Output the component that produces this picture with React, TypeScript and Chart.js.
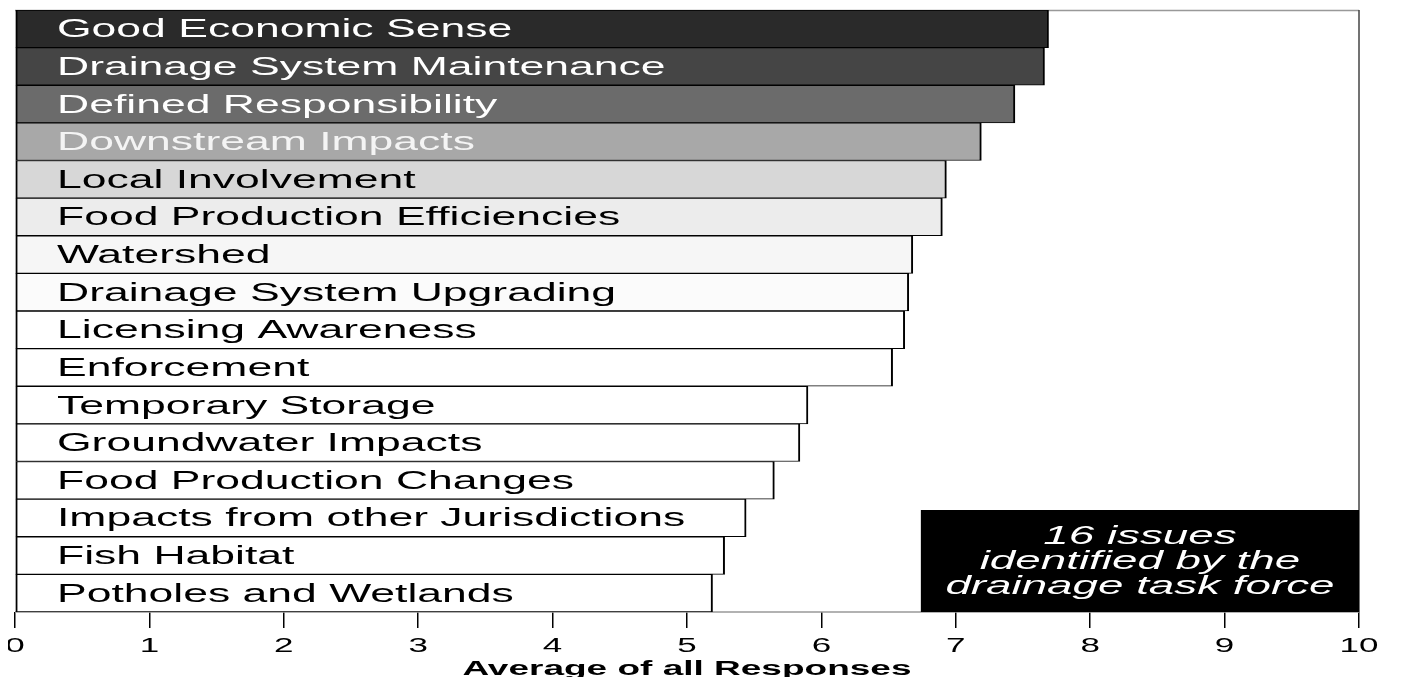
import React, { useEffect, useRef } from "react";
import { Chart, registerables } from "chart.js";

Chart.register(...registerables);

const categories = [
  "Good Economic Sense",
  "Drainage System Maintenance",
  "Defined Responsibility",
  "Downstream Impacts",
  "Local Involvement",
  "Food Production Efficiencies",
  "Watershed",
  "Drainage System Upgrading",
  "Licensing Awareness",
  "Enforcement",
  "Temporary Storage",
  "Groundwater Impacts",
  "Food Production Changes",
  "Impacts from other Jurisdictions",
  "Fish Habitat",
  "Potholes and Wetlands",
];

const averages = [7.69, 7.66, 7.44, 7.19, 6.93, 6.90, 6.68, 6.65, 6.62, 6.53, 5.90, 5.84, 5.65, 5.44, 5.28, 5.19];

const barColors = [
  "#2a2a2a", "#454545", "#6b6b6b", "#a8a8a8", "#d7d7d7", "#ececec", "#f6f6f6", "#fbfbfb",
  "#ffffff", "#ffffff", "#ffffff", "#ffffff", "#ffffff", "#ffffff", "#ffffff", "#ffffff",
];

const labelColors = [
  "#ffffff", "#ffffff", "#ffffff", "#f4f4f4", "#000000", "#000000", "#000000", "#000000",
  "#000000", "#000000", "#000000", "#000000", "#000000", "#000000", "#000000", "#000000",
];

const tickValues = [0, 1, 2, 3, 4, 5, 6, 7, 8, 9, 10];
const axisTitle = "Average of all Responses";
const noteLines = ["16 issues", "identified by the", "drainage task force"];
const noteStartValue = 6.74;

function stretchedText(ctx: CanvasRenderingContext2D, text: string, x: number, y: number, sx: number, align: "left" | "center") {
  ctx.save();
  ctx.translate(x, y);
  ctx.scale(sx, 1);
  ctx.textAlign = align;
  ctx.fillText(text, 0, 0);
  ctx.restore();
}

const customPlugin = {
  id: "custom",
  beforeDatasetsDraw(chart: any) {
    const { ctx, chartArea } = chart;
    ctx.save();
    ctx.strokeStyle = "#999999";
    ctx.lineWidth = 1.5;
    ctx.beginPath();
    ctx.moveTo(chartArea.left, chartArea.top + 0.5);
    ctx.lineTo(chartArea.right, chartArea.top + 0.5);
    ctx.moveTo(chartArea.left, chartArea.bottom);
    ctx.lineTo(chartArea.right, chartArea.bottom);
    ctx.stroke();
    ctx.strokeStyle = "#444444";
    ctx.beginPath();
    ctx.moveTo(chartArea.right, chartArea.top);
    ctx.lineTo(chartArea.right, chartArea.bottom);
    ctx.stroke();
    ctx.restore();
  },
  afterDatasetsDraw(chart: any) {
    const { ctx, chartArea, scales } = chart;
    const x = scales.x;
    const y = scales.y;
    ctx.save();
    // bar labels
    ctx.font = "25px 'Liberation Sans', Arial, sans-serif";
    ctx.textBaseline = "alphabetic";
    categories.forEach((c, i) => {
      const cy = y.getPixelForValue(i);
      ctx.fillStyle = labelColors[i];
      stretchedText(ctx, c, chartArea.left + 42, cy + 8.5, 1.78, "left");
    });
    // note box
    const bx = x.getPixelForValue(noteStartValue);
    const top = chartArea.bottom - 102;
    ctx.fillStyle = "#000000";
    ctx.fillRect(bx, top, chartArea.right - bx, chartArea.bottom - top);
    ctx.fillStyle = "#ffffff";
    ctx.font = "italic 25px 'Liberation Sans', Arial, sans-serif";
    const cx = (bx + chartArea.right) / 2;
    noteLines.forEach((t, i) => {
      stretchedText(ctx, t, cx, top + 34 + i * 25, 1.83, "center");
    });
    // tick labels
    ctx.fillStyle = "#000000";
    ctx.font = "20px 'Liberation Sans', Arial, sans-serif";
    tickValues.forEach((v) => {
      stretchedText(ctx, String(v), x.getPixelForValue(v), chartArea.bottom + 40, 1.75, "center");
    });
    // axis title
    ctx.font = "bold 20px 'Liberation Sans', Arial, sans-serif";
    stretchedText(ctx, axisTitle, (chartArea.left + chartArea.right) / 2, chartArea.bottom + 63, 1.85, "center");
    ctx.restore();
  },
};

export default function App() {
  const ref = useRef<HTMLCanvasElement>(null);
  useEffect(() => {
    if (!ref.current) return;
    const chart = new Chart(ref.current, {
      type: "bar",
      data: {
        labels: categories,
        datasets: [
          {
            data: averages,
            backgroundColor: barColors,
            borderColor: "#000000",
            borderWidth: { top: 1, bottom: 1, left: 2, right: 2 } as any,
            borderSkipped: false,
            categoryPercentage: 1,
            barPercentage: 1,
          },
        ],
      },
      options: {
        indexAxis: "y",
        animation: false,
        responsive: false,
        layout: { padding: { left: 7, top: 2, right: 38, bottom: 49 } },
        plugins: { legend: { display: false }, tooltip: { enabled: false } },
        scales: {
          x: {
            type: "linear",
            min: 0,
            max: 10,
            afterBuildTicks: (scale: any) => {
              scale.ticks = tickValues.map((v) => ({ value: v }));
            },
            ticks: { display: false },
            grid: {
              drawOnChartArea: false,
              drawTicks: true,
              tickLength: 16,
              color: "#000000",
              lineWidth: 1.5,
            },
            border: { display: false },
          },
          y: {
            display: false,
          },
        },
      },
      plugins: [customPlugin],
    });
    return () => chart.destroy();
  }, []);
  return (
    <div style={{ width: 1389, height: 669 }}>
      <canvas ref={ref} width={1389} height={669} style={{ display: "block" }} />
    </div>
  );
}
